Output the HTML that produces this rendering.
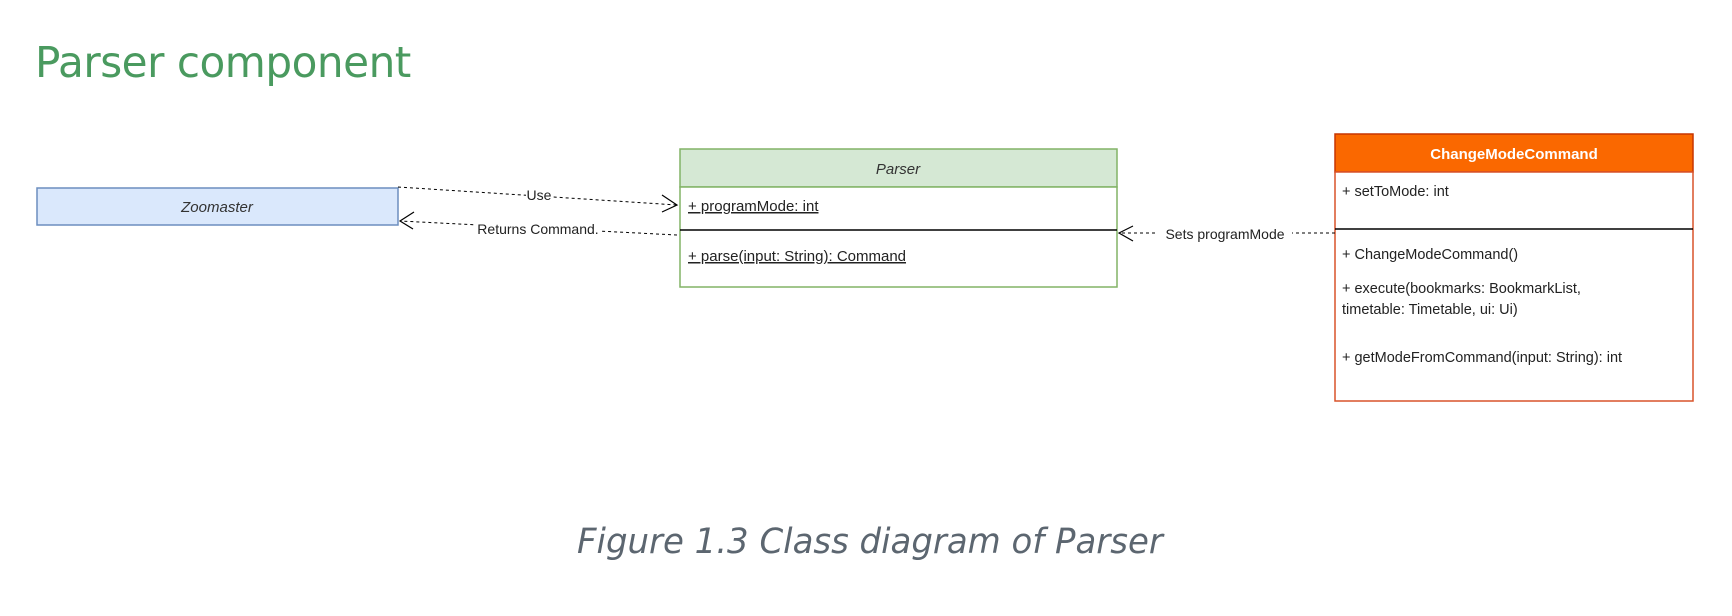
<!DOCTYPE html>
<html><head><meta charset="utf-8"><style>
body{margin:0;background:#fff;width:1732px;height:616px;overflow:hidden;position:relative;font-family:"Liberation Sans",sans-serif}
</style></head><body>
<div style="position:absolute;left:35px;top:38px;font-size:43px;color:#4a9a5f;font-family:'DejaVu Sans','Liberation Sans',sans-serif;letter-spacing:-0.5px;transform:scaleX(0.98);transform-origin:left;white-space:nowrap">Parser component</div>
<svg width="1732" height="616" style="position:absolute;left:0;top:0" font-family="Liberation Sans, sans-serif">
<rect x="37" y="188" width="361" height="37" fill="#dae8fc" stroke="#6c8ebf" stroke-width="1.5"/>
<text x="217" y="212" font-size="15" font-style="italic" text-anchor="middle" fill="#333">Zoomaster</text>

<rect x="680" y="149" width="437" height="38" fill="#d5e8d4" stroke="#82b366" stroke-width="1.5"/>
<rect x="680" y="187" width="437" height="100" fill="#fff" stroke="#82b366" stroke-width="1.5"/>
<line x1="680" y1="230" x2="1117" y2="230" stroke="#000" stroke-width="1.5"/>
<text x="898" y="174" font-size="15" font-style="italic" text-anchor="middle" fill="#333">Parser</text>
<text x="688" y="211" font-size="15" fill="#222" text-decoration="underline">+ programMode: int</text>
<text x="688" y="261" font-size="15" fill="#222" text-decoration="underline">+ parse(input: String): Command</text>

<rect x="1335" y="134" width="358" height="38" fill="#fa6800" stroke="#c73500" stroke-width="1.5"/>
<rect x="1335" y="172" width="358" height="229" fill="#fff" stroke="#d9532a" stroke-width="1.5"/>
<line x1="1335" y1="229" x2="1693" y2="229" stroke="#000" stroke-width="1.5"/>
<text x="1514" y="159" font-size="15" font-weight="bold" text-anchor="middle" fill="#fff">ChangeModeCommand</text>
<g font-size="14.5" fill="#222">
<text x="1342" y="196">+ setToMode: int</text>
<text x="1342" y="259">+ ChangeModeCommand()</text>
<text x="1342" y="293">+ execute(bookmarks: BookmarkList,</text>
<text x="1342" y="314">timetable: Timetable, ui: Ui)</text>
<text x="1342" y="362">+ getModeFromCommand(input: String): int</text>
</g>

<g stroke="#000" fill="none" stroke-width="1" stroke-dasharray="3,3">
<line x1="398" y1="187" x2="677" y2="205"/>
<line x1="677" y1="235" x2="400" y2="221"/>
<line x1="1335" y1="233" x2="1119" y2="233"/>
</g>
<g stroke="#000" fill="none" stroke-width="1.2">
<polyline points="662,195 677,205 662,212"/>
<polyline points="414,212 400,221 413,229"/>
<polyline points="1133,226 1119,233 1133,241"/>
</g>
<rect x="526" y="188" width="26" height="14" fill="#fff"/>
<text x="539" y="200" font-size="14" text-anchor="middle" fill="#222">Use</text>
<rect x="474" y="222" width="128" height="14" fill="#fff"/>
<text x="538" y="234" font-size="14" text-anchor="middle" fill="#222">Returns Command.</text>
<rect x="1158" y="227" width="134" height="14" fill="#fff"/>
<text x="1225" y="239" font-size="14" text-anchor="middle" fill="#222">Sets programMode</text>
</svg>
<div style="position:absolute;left:577px;top:522px;font-size:35px;font-style:italic;color:#5c6670;font-family:'DejaVu Sans','Liberation Sans',sans-serif;transform:scaleX(0.97);transform-origin:left;white-space:nowrap">Figure 1.3 Class diagram of Parser</div>
</body></html>
